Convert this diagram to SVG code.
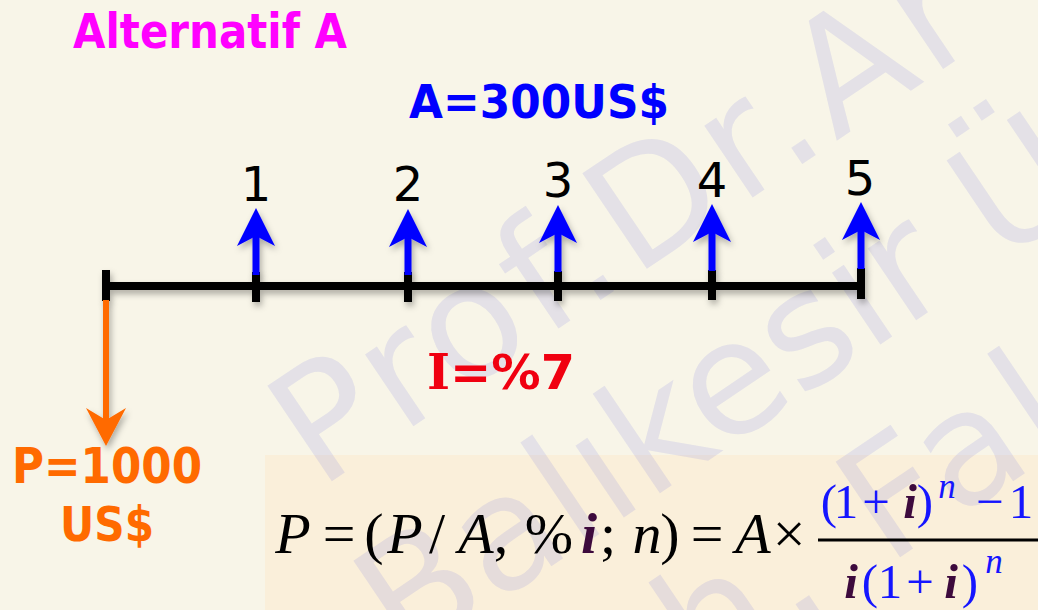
<svg xmlns="http://www.w3.org/2000/svg" width="1038" height="610" viewBox="0 0 1038 610">
<defs>
<filter id="sh" x="-10%" y="-30%" width="120%" height="180%">
<feDropShadow dx="2" dy="4" stdDeviation="3" flood-color="#000" flood-opacity="0.3"/>
</filter>
<style>
.bold{font-family:"DejaVu Sans","Verdana",sans-serif;font-weight:bold}
.serifI{font-family:"DejaVu Serif",serif;font-weight:bold}
.num{font-family:"DejaVu Sans",sans-serif;font-size:48px;fill:#000;text-anchor:middle}
.wm{font-family:"DejaVu Sans",sans-serif;font-size:158px;letter-spacing:7px;fill:#6a6ae0;fill-opacity:0.14}
.wm2{letter-spacing:0px}
.f{font-family:"Liberation Serif","Times New Roman",serif;text-anchor:middle}
.it{font-style:italic}
.bi{font-style:italic;font-weight:bold;fill:#3d0a3d}
.bl{fill:#1515ff}
.blue{fill:#0000ff;stroke:none}
.tick{stroke:#000;stroke-width:8;fill:none}
</style>
</defs>
<rect width="1038" height="610" fill="#f8f5e8"/>
<rect x="265" y="455" width="773" height="155" fill="#faefda"/>
<g id="watermark">
<text class="wm" transform="translate(319,490) rotate(-34)">Prof.Dr.Ar</text>
<text class="wm wm2" transform="translate(405,665) rotate(-34)">Balıkesir Ü</text>
<text class="wm" transform="translate(496,830) rotate(-34)">Müh. Fak</text>
</g>
<g id="title"><text class="bold" x="73" y="48" font-size="48" fill="#ff00ff" textLength="274" lengthAdjust="spacingAndGlyphs">Alternatif A</text></g>
<g id="annuity-label"><text class="bold" x="409" y="118" font-size="46" fill="#0000ff" textLength="260" lengthAdjust="spacingAndGlyphs">A=300US$</text></g>
<g id="timeline" filter="url(#sh)">
<line x1="106" y1="286" x2="861" y2="286" class="tick"/>
<line x1="106" y1="270" x2="106" y2="301" class="tick"/>
<line x1="256" y1="272" x2="256" y2="302" class="tick"/>
<line x1="408" y1="272" x2="408" y2="302" class="tick"/>
<line x1="558" y1="271" x2="558" y2="301" class="tick"/>
<line x1="712" y1="270" x2="712" y2="300" class="tick"/>
<line x1="861" y1="268" x2="861" y2="299" class="tick"/>
</g>
<g id="connectors" filter="url(#sh)">
<g id="arrow-1"><rect x="252.5" y="235" width="7" height="40" class="blue"/><path d="M256,208 L275,246 L256,236 L237,246 Z" class="blue"/></g>
<g id="arrow-2"><rect x="404.5" y="235" width="7" height="40" class="blue"/><path d="M408,209 L427,247 L408,237 L389,247 Z" class="blue"/></g>
<g id="arrow-3"><rect x="554.5" y="232" width="7" height="40" class="blue"/><path d="M558,205 L577,243 L558,233 L539,243 Z" class="blue"/></g>
<g id="arrow-4"><rect x="708.5" y="231" width="7" height="40" class="blue"/><path d="M712,204 L731,242 L712,232 L693,242 Z" class="blue"/></g>
<g id="arrow-5"><rect x="857.5" y="229" width="7" height="40" class="blue"/><path d="M861,202 L880,240 L861,230 L842,240 Z" class="blue"/></g>
<g id="arrow-P"><rect x="103" y="300" width="6" height="122" fill="#ff6a00"/><path d="M106,446 L126,408 L106,420 L86,408 Z" fill="#ff6a00"/></g>
</g>
<g id="periods">
<text class="num" x="256" y="201">1</text>
<text class="num" x="408" y="201">2</text>
<text class="num" x="558" y="197">3</text>
<text class="num" x="712" y="197">4</text>
<text class="num" x="860" y="195">5</text>
</g>
<g id="rate"><text class="bold" x="427" y="389" font-size="48" fill="#f00010" textLength="148" lengthAdjust="spacingAndGlyphs"><tspan class="serifI">I</tspan>=%7</text></g>
<g id="present-value">
<text class="bold" x="12" y="483" font-size="50" fill="#ff6a00" textLength="190" lengthAdjust="spacingAndGlyphs">P=1000</text>
<text class="bold" x="60" y="541" font-size="48" fill="#ff6a00" textLength="94" lengthAdjust="spacingAndGlyphs">US$</text>
</g>
<g id="formula">
<text class="f" y="553" font-size="58" fill="#000">
<tspan x="293" class="it">P</tspan><tspan x="339">=</tspan><tspan x="374">(</tspan><tspan x="405" class="it">P</tspan><tspan x="437">/</tspan><tspan x="476" class="it">A</tspan><tspan x="501">,</tspan><tspan x="549">%</tspan><tspan x="589" class="bi">i</tspan><tspan x="608">;</tspan><tspan x="647" class="it">n</tspan><tspan x="670">)</tspan><tspan x="707">=</tspan><tspan x="753" class="it">A</tspan><tspan x="789">×</tspan>
</text>
<line x1="818" y1="540" x2="1038" y2="540" stroke="#000" stroke-width="3"/>
<text class="f bl" y="518" font-size="49">
<tspan x="829">(</tspan><tspan x="846">1</tspan><tspan x="876">+</tspan><tspan x="910" class="bi">i</tspan><tspan x="925">)</tspan><tspan x="990">−</tspan><tspan x="1021">1</tspan>
</text>
<text class="f bl it" x="947" y="498" font-size="35">n</text>
<text class="f bl" y="598" font-size="49">
<tspan x="851" class="bi">i</tspan><tspan x="870">(</tspan><tspan x="890">1</tspan><tspan x="920">+</tspan><tspan x="951" class="bi">i</tspan><tspan x="970">)</tspan>
</text>
<text class="f bl it" x="994" y="573" font-size="35">n</text>
</g>
</svg>
